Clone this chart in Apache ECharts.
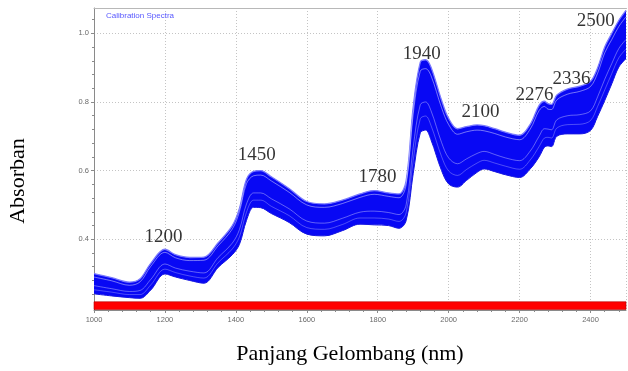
<!DOCTYPE html>
<html><head><meta charset="utf-8">
<script src="https://cdn.jsdelivr.net/npm/echarts@6/dist/echarts.min.js"></script>
<style>html,body{margin:0;padding:0;background:#fff}#c{width:628px;height:371px}</style>
</head><body><div id="c"></div>
<script>
const wavelengths = [1000,1050,1100,1130,1160,1200,1230,1270,1310,1350,1390,1410,1430,1450,1470,1500,1550,1600,1650,1700,1750,1790,1830,1860,1880,1900,1920,1935,1950,1980,2000,2025,2050,2080,2100,2130,2160,2200,2230,2255,2270,2280,2290,2305,2336,2370,2400,2420,2440,2460,2480,2500];
const upperEnvelope = [0.300,0.288,0.275,0.285,0.330,0.371,0.355,0.347,0.348,0.390,0.440,0.490,0.575,0.598,0.600,0.582,0.548,0.510,0.503,0.514,0.532,0.542,0.535,0.532,0.570,0.785,0.916,0.923,0.902,0.805,0.752,0.722,0.728,0.733,0.731,0.722,0.712,0.703,0.735,0.790,0.802,0.795,0.793,0.820,0.838,0.846,0.860,0.900,0.960,1.000,1.038,1.067];
const upperGap = [0.290,0.279,0.266,0.276,0.321,0.362,0.346,0.338,0.339,0.381,0.430,0.480,0.562,0.585,0.587,0.570,0.537,0.500,0.493,0.504,0.522,0.531,0.525,0.521,0.558,0.765,0.890,0.897,0.877,0.783,0.734,0.706,0.713,0.718,0.716,0.708,0.698,0.690,0.721,0.775,0.787,0.779,0.778,0.806,0.823,0.831,0.845,0.884,0.943,0.982,1.020,1.048];
const midGap1 = [0.265,0.256,0.248,0.251,0.283,0.328,0.316,0.307,0.302,0.347,0.389,0.428,0.503,0.535,0.535,0.518,0.489,0.453,0.447,0.461,0.479,0.482,0.478,0.472,0.500,0.668,0.792,0.800,0.775,0.682,0.637,0.620,0.634,0.650,0.656,0.647,0.637,0.629,0.657,0.700,0.722,0.721,0.719,0.748,0.760,0.763,0.774,0.815,0.866,0.912,0.956,0.982];
const midGap2 = [0.253,0.246,0.239,0.239,0.267,0.313,0.303,0.293,0.287,0.332,0.372,0.407,0.479,0.514,0.514,0.496,0.469,0.434,0.429,0.443,0.462,0.462,0.459,0.452,0.477,0.630,0.751,0.759,0.732,0.641,0.599,0.586,0.603,0.622,0.630,0.622,0.613,0.604,0.631,0.670,0.695,0.697,0.695,0.724,0.734,0.735,0.746,0.787,0.835,0.883,0.929,0.954];
const lowerEnvelope = [0.241,0.235,0.230,0.228,0.252,0.299,0.290,0.280,0.272,0.318,0.355,0.385,0.455,0.493,0.492,0.475,0.449,0.415,0.410,0.425,0.444,0.442,0.440,0.432,0.454,0.591,0.710,0.718,0.690,0.600,0.561,0.552,0.571,0.595,0.605,0.597,0.588,0.580,0.605,0.640,0.668,0.672,0.670,0.700,0.707,0.707,0.717,0.758,0.804,0.853,0.902,0.926];
const xMinorTicks = [1040,1080,1120,1160,1240,1280,1320,1360,1440,1480,1520,1560,1640,1680,1720,1760,1840,1880,1920,1960,2040,2080,2120,2160,2240,2280,2320,2360,2440,2480];
const yTicks = [0.4,0.6,0.8,1.0];
const yMinorTicks = [0.24,0.28,0.32,0.36,0.44,0.48,0.52,0.56,0.64,0.68,0.72,0.76,0.84,0.88,0.92,0.96,1.04];
const peakLabels = ['1200','1450','1780','1940','2100','2276','2336','2500'];
const peakLabelX = [1196,1459,1799,1924,2090,2242,2346,2415];
const peakLabelY = [0.407,0.645,0.581,0.941,0.771,0.821,0.867,1.035];
const redBand = [0.1955,0.218];
const xRange = [1000,2500];
const yRange = [0.194,1.0737];

const pair = arr => wavelengths.map((w,i)=>[w, arr[i]]);
// value first so that stacking happens on the absorbance (y) dimension
const pairVW = arr => wavelengths.map((w,i)=>[arr[i], w]);
const bandWidth = upperEnvelope.map((u,i)=>+(u-lowerEnvelope[i]).toFixed(4));
const SM = 0.35;
const axisGrey = '#8a8a8a';
const lbl = {color:'#6a6a6a', fontSize:7.5, fontFamily:'Liberation Sans'};

const chart = echarts.init(document.getElementById('c'), null, {renderer:'canvas'});
chart.setOption({
  animation:false,
  title:{text:'Calibration Spectra', left:106, top:12, padding:0,
    textStyle:{fontSize:8, fontWeight:'normal', color:'#5858ff', fontFamily:'Liberation Sans'}},
  grid:{left:94, right:2, top:8, bottom:61},
  xAxis:[{type:'value', min:xRange[0], max:xRange[1], interval:200,
    axisLine:{lineStyle:{color:axisGrey}}, axisTick:{length:3, lineStyle:{color:axisGrey}},
    axisLabel:Object.assign({margin:6, showMaxLabel:false, formatter:v=>String(v)}, lbl),
    splitLine:{show:true, lineStyle:{color:'#c4c4c4', type:[1,2], width:1}}},
   {type:'value', min:xRange[0], max:xRange[1], position:'bottom', offset:0,
    axisLine:{show:false}, axisLabel:{show:false}, splitLine:{show:false},
    axisTick:{show:true, customValues:xMinorTicks, length:2, lineStyle:{color:axisGrey}}},
   {type:'value', min:xRange[0], max:xRange[1], position:'top', offset:0,
    axisLine:{show:true, lineStyle:{color:'#b8b8b8'}}, axisLabel:{show:false}, axisTick:{show:false}, splitLine:{show:false}}],
  yAxis:[{type:'value', min:yRange[0], max:yRange[1],
    axisLine:{show:true, lineStyle:{color:axisGrey}},
    axisTick:{show:true, customValues:yTicks, length:3, lineStyle:{color:axisGrey}},
    axisLabel:Object.assign({margin:5, customValues:yTicks, formatter:v=>v.toFixed(1)}, lbl),
    splitLine:{show:true, lineStyle:{color:'#c4c4c4', type:[1,2], width:1}}},
   {type:'value', min:yRange[0], max:yRange[1], position:'left', offset:0,
    axisLine:{show:false}, axisLabel:{show:false}, splitLine:{show:false},
    axisTick:{show:true, customValues:yMinorTicks, length:2, lineStyle:{color:axisGrey}}}],
  graphic:[
    {type:'text', x:18, y:181, rotation:Math.PI/2,
     style:{text:'Absorban', fontSize:22, fontFamily:'Liberation Serif', fill:'#000', align:'center', verticalAlign:'middle'}},
    {type:'text', x:350, y:354,
     style:{text:'Panjang Gelombang (nm)', fontSize:22, fontFamily:'Liberation Serif', fill:'#000', align:'center', verticalAlign:'middle'}}
  ],
  series:[
    {type:'line', name:'lower', data:pairVW(lowerEnvelope), dimensions:['v','w'], encode:{x:'w', y:'v'},
     stack:'band', smooth:SM, symbol:'none', silent:true, lineStyle:{width:0}, z:2,
     markArea:{silent:true, itemStyle:{color:'#ff0000', borderColor:'#b00000', borderWidth:0.6},
       data:[[{xAxis:xRange[0], yAxis:redBand[0]},{xAxis:xRange[1], yAxis:redBand[1]}]]}},
    {type:'line', name:'band', data:pairVW(bandWidth), dimensions:['v','w'], encode:{x:'w', y:'v'},
     stack:'band', smooth:SM, symbol:'none', silent:true,
     lineStyle:{width:0}, areaStyle:{color:'#0808f4', opacity:1}, z:3},
    {type:'line', data:pair(lowerEnvelope), smooth:SM, symbol:'none', silent:true, z:4,
     lineStyle:{color:'#1515e0', width:1}},
    {type:'line', data:pair(upperEnvelope), smooth:SM, symbol:'none', silent:true, z:4,
     lineStyle:{color:'#7a7aff', width:1.3}},
    {type:'line', data:pair(upperGap), smooth:SM, symbol:'none', silent:true, z:4,
     lineStyle:{color:'#ffffff', width:0.8, opacity:0.55}},
    {type:'line', data:pair(midGap1), smooth:SM, symbol:'none', silent:true, z:4,
     lineStyle:{color:'#ffffff', width:0.8, opacity:0.45}},
    {type:'line', data:pair(midGap2), smooth:SM, symbol:'none', silent:true, z:4,
     lineStyle:{color:'#ffffff', width:0.7, opacity:0.4}},
    {type:'scatter', data:peakLabels.map((t,i)=>({name:t, value:[peakLabelX[i], peakLabelY[i]]})),
     symbolSize:1, itemStyle:{color:'transparent'}, silent:true, z:6,
     label:{show:true, position:'inside', formatter:'{b}', fontFamily:'Liberation Serif', fontSize:19, color:'#000'}}
  ]
});
</script>
</body></html>
